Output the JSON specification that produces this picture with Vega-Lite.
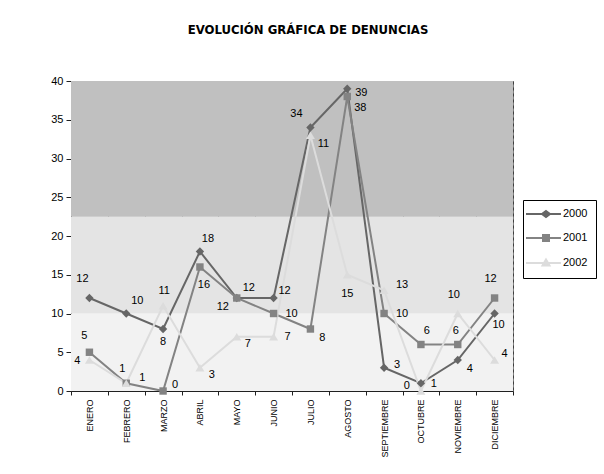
{
  "$schema": "https://vega.github.io/schema/vega-lite/v6.json",
  "width": 442,
  "height": 310,
  "autosize": "none",
  "padding": {"left": 71, "top": 81, "right": 91, "bottom": 83},
  "background": "white",
  "title": {
    "text": "EVOLUCIÓN GRÁFICA DE DENUNCIAS",
    "font": "'DejaVu Sans Condensed', 'Liberation Sans', sans-serif",
    "fontSize": 13,
    "fontWeight": "bold",
    "color": "black",
    "anchor": "middle",
    "frame": "group",
    "dx": 16,
    "offset": 38
  },
  "config": {
    "view": {"stroke": "#808080", "strokeWidth": 1},
    "axis": {
      "labelFont": "Liberation Sans",
      "labelColor": "black",
      "domainColor": "#202020",
      "tickColor": "#202020",
      "title": null
    }
  },
  "datasets": {
    "bandas": [
      {"desde": 0, "hasta": 10, "nivel": "bajo"},
      {"desde": 10, "hasta": 22.5, "nivel": "medio"},
      {"desde": 22.5, "hasta": 40, "nivel": "alto"}
    ],
    "denuncias": [
      {"mes": "ENERO", "anio": "2000", "denuncias": 12, "etiqueta": "12"},
      {"mes": "FEBRERO", "anio": "2000", "denuncias": 10, "etiqueta": "10"},
      {"mes": "MARZO", "anio": "2000", "denuncias": 8, "etiqueta": "8"},
      {"mes": "ABRIL", "anio": "2000", "denuncias": 18, "etiqueta": "18"},
      {"mes": "MAYO", "anio": "2000", "denuncias": 12, "etiqueta": "12"},
      {"mes": "JUNIO", "anio": "2000", "denuncias": 12, "etiqueta": "12"},
      {"mes": "JULIO", "anio": "2000", "denuncias": 34, "etiqueta": "34"},
      {"mes": "AGOSTO", "anio": "2000", "denuncias": 39, "etiqueta": "39"},
      {"mes": "SEPTIEMBRE", "anio": "2000", "denuncias": 3, "etiqueta": "3"},
      {"mes": "OCTUBRE", "anio": "2000", "denuncias": 1, "etiqueta": "1"},
      {"mes": "NOVIEMBRE", "anio": "2000", "denuncias": 4, "etiqueta": "4"},
      {"mes": "DICIEMBRE", "anio": "2000", "denuncias": 10, "etiqueta": "10"},
      {"mes": "ENERO", "anio": "2001", "denuncias": 5, "etiqueta": "5"},
      {"mes": "FEBRERO", "anio": "2001", "denuncias": 1, "etiqueta": "1"},
      {"mes": "MARZO", "anio": "2001", "denuncias": 0, "etiqueta": "0"},
      {"mes": "ABRIL", "anio": "2001", "denuncias": 16, "etiqueta": "16"},
      {"mes": "MAYO", "anio": "2001", "denuncias": 12, "etiqueta": "12"},
      {"mes": "JUNIO", "anio": "2001", "denuncias": 10, "etiqueta": "10"},
      {"mes": "JULIO", "anio": "2001", "denuncias": 8, "etiqueta": "8"},
      {"mes": "AGOSTO", "anio": "2001", "denuncias": 38, "etiqueta": "38"},
      {"mes": "SEPTIEMBRE", "anio": "2001", "denuncias": 10, "etiqueta": "10"},
      {"mes": "OCTUBRE", "anio": "2001", "denuncias": 6, "etiqueta": "6"},
      {"mes": "NOVIEMBRE", "anio": "2001", "denuncias": 6, "etiqueta": "6"},
      {"mes": "DICIEMBRE", "anio": "2001", "denuncias": 12, "etiqueta": "12"},
      {"mes": "ENERO", "anio": "2002", "denuncias": 4, "etiqueta": "4"},
      {"mes": "FEBRERO", "anio": "2002", "denuncias": 1, "etiqueta": "1"},
      {"mes": "MARZO", "anio": "2002", "denuncias": 11, "etiqueta": "11"},
      {"mes": "ABRIL", "anio": "2002", "denuncias": 3, "etiqueta": "3"},
      {"mes": "MAYO", "anio": "2002", "denuncias": 7, "etiqueta": "7"},
      {"mes": "JUNIO", "anio": "2002", "denuncias": 7, "etiqueta": "7"},
      {"mes": "JULIO", "anio": "2002", "denuncias": 33, "etiqueta": "11"},
      {"mes": "AGOSTO", "anio": "2002", "denuncias": 15, "etiqueta": "15"},
      {"mes": "SEPTIEMBRE", "anio": "2002", "denuncias": 13, "etiqueta": "13"},
      {"mes": "OCTUBRE", "anio": "2002", "denuncias": 0, "etiqueta": "0"},
      {"mes": "NOVIEMBRE", "anio": "2002", "denuncias": 10, "etiqueta": "10"},
      {"mes": "DICIEMBRE", "anio": "2002", "denuncias": 4, "etiqueta": "4"}
    ]
  },
  "layer": [
    {
      "data": {"name": "bandas"},
      "mark": {"type": "rect"},
      "encoding": {
        "y": {
          "field": "desde",
          "type": "quantitative",
          "scale": {"domain": [0, 40], "nice": false},
          "axis": {"values": [0, 5, 10, 15, 20, 25, 30, 35, 40], "grid": false, "labelFontSize": 11, "tickSize": 5, "labelPadding": 3}
        },
        "y2": {"field": "hasta"},
        "fill": {
          "field": "nivel",
          "type": "nominal",
          "scale": {"domain": ["bajo", "medio", "alto"], "range": ["#f2f2f2", "#e4e4e4", "#c0c0c0"]},
          "legend": null
        }
      }
    },
    {
      "data": {"name": "denuncias"},
      "encoding": {
        "x": {
          "field": "mes",
          "type": "nominal",
          "sort": ["ENERO", "FEBRERO", "MARZO", "ABRIL", "MAYO", "JUNIO", "JULIO", "AGOSTO", "SEPTIEMBRE", "OCTUBRE", "NOVIEMBRE", "DICIEMBRE"],
          "scale": {"paddingInner": 0, "paddingOuter": 0},
          "axis": {
            "labelAngle": 270,
            "labelAlign": "right",
            "labelBaseline": "middle",
            "labelFontSize": 9,
            "labelPadding": 4,
            "tickBand": "extent",
            "tickSize": 4,
            "grid": true,
            "gridColor": "#404040",
            "gridDash": [3, 3],
            "gridWidth": 1,
            "gridOpacity": 1
          }
        },
        "y": {
          "field": "denuncias",
          "type": "quantitative",
          "scale": {"domain": [0, 40], "nice": false},
          "axis": {"values": [0, 5, 10, 15, 20, 25, 30, 35, 40], "grid": false, "labelFontSize": 11, "tickSize": 5, "labelPadding": 3}
        }
      },
      "layer": [
        {
          "mark": {"type": "line", "strokeWidth": 2},
          "encoding": {
            "color": {
              "field": "anio",
              "type": "nominal",
              "scale": {"domain": ["2000", "2001", "2002"], "range": ["#666666", "#838383", "#dcdcdc"]},
              "legend": {
                "title": null,
                "orient": "none",
                "legendX": 452,
                "legendY": 119,
                "strokeColor": "black",
                "fillColor": "white",
                "padding": 8,
                "labelFont": "Liberation Sans",
                "labelFontSize": 11,
                "labelColor": "black",
                "symbolSize": 100,
                "rowPadding": 10,
                "labelOffset": 20,
                "encode": {
                  "symbols": {
                    "update": {
                      "shape": {"signal": "datum.value == '2000' ? 'M-2.2,0H4.8M1.8,-0.6L2.6,0L1.8,0.6L1,0Z' : datum.value == '2001' ? 'M-2.2,0H4.8M1.2,-0.6H2.4V0.6H1.2Z' : 'M-2.2,0H4.8M1.8,-0.7L2.5,0.5H1.1Z'"},
                      "fill": {"scale": "color", "field": "value"},
                      "stroke": {"scale": "color", "field": "value"},
                      "strokeWidth": {"value": 2}
                    }
                  }
                }
              }
            }
          }
        },
        {
          "transform": [{"filter": "datum.anio == '2000'"}],
          "mark": {"type": "point", "filled": true, "opacity": 1, "shape": "diamond", "size": 70},
          "encoding": {"color": {"field": "anio", "type": "nominal", "legend": null}}
        },
        {
          "transform": [{"filter": "datum.anio == '2001'"}],
          "mark": {"type": "point", "filled": true, "opacity": 1, "shape": "square", "size": 55},
          "encoding": {"color": {"field": "anio", "type": "nominal", "legend": null}}
        },
        {
          "transform": [{"filter": "datum.anio == '2002'"}],
          "mark": {"type": "point", "filled": true, "opacity": 1, "shape": "triangle-up", "size": 80},
          "encoding": {"color": {"field": "anio", "type": "nominal", "legend": null}}
        },
        {
          "mark": {
            "type": "text",
            "font": "Liberation Sans",
            "fontSize": 11,
            "fill": "black",
            "align": "center",
            "baseline": "middle",
            "dx": {"expr": "({'2000ENERO':-7,'2000FEBRERO':11,'2000MARZO':0,'2000ABRIL':8,'2000MAYO':12,'2000JUNIO':11,'2000JULIO':-14,'2000AGOSTO':14,'2000SEPTIEMBRE':13,'2000OCTUBRE':13,'2000NOVIEMBRE':12,'2000DICIEMBRE':4,'2001ENERO':-5,'2001FEBRERO':-4,'2001MARZO':12,'2001ABRIL':4,'2001MAYO':-14,'2001JUNIO':18,'2001JULIO':12,'2001AGOSTO':13,'2001SEPTIEMBRE':18,'2001OCTUBRE':6,'2001NOVIEMBRE':-2,'2001DICIEMBRE':-4,'2002ENERO':-12,'2002FEBRERO':16,'2002MARZO':1,'2002ABRIL':12,'2002MAYO':11,'2002JUNIO':14,'2002JULIO':13,'2002AGOSTO':0,'2002SEPTIEMBRE':18,'2002OCTUBRE':-14,'2002NOVIEMBRE':-4,'2002DICIEMBRE':10})[datum.anio + datum.mes]"},
            "dy": {"expr": "({'2000ENERO':-19,'2000FEBRERO':-13,'2000MARZO':13,'2000ABRIL':-13,'2000MAYO':-10,'2000JUNIO':-7,'2000JULIO':-14,'2000AGOSTO':4,'2000SEPTIEMBRE':-3,'2000OCTUBRE':1,'2000NOVIEMBRE':9,'2000DICIEMBRE':11,'2001ENERO':-16,'2001FEBRERO':-14,'2001MARZO':-6,'2001ABRIL':18,'2001MAYO':9,'2001JUNIO':0,'2001JULIO':9,'2001AGOSTO':11,'2001SEPTIEMBRE':0,'2001OCTUBRE':-14,'2001NOVIEMBRE':-14,'2001DICIEMBRE':-19,'2002ENERO':1,'2002FEBRERO':-5,'2002MARZO':-15,'2002ABRIL':7,'2002MAYO':7,'2002JUNIO':0,'2002JULIO':9,'2002AGOSTO':19,'2002SEPTIEMBRE':-5,'2002OCTUBRE':-5,'2002NOVIEMBRE':-19,'2002DICIEMBRE':-6})[datum.anio + datum.mes]"}
          },
          "encoding": {
            "text": {"field": "etiqueta"}
          }
        }
      ]
    }
  ]
}
